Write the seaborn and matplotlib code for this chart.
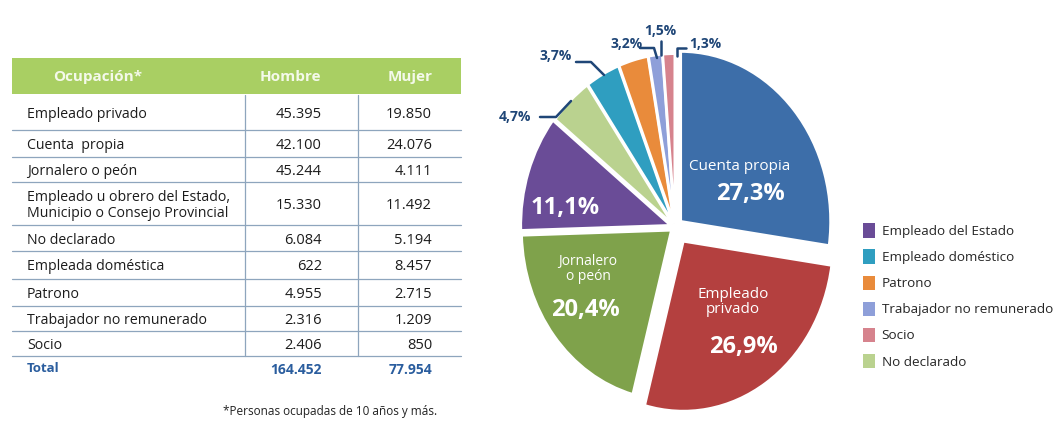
import matplotlib
matplotlib.use("Agg")
import matplotlib.pyplot as plt
from matplotlib.patches import Patch, Rectangle
import seaborn as sns

# ---- tabla ----
ocupaciones = ["Empleado privado", "Cuenta  propia", "Jornalero o peón",
               "Empleado u obrero del Estado,\nMunicipio o Consejo Provincial",
               "No declarado", "Empleada doméstica", "Patrono",
               "Trabajador no remunerado", "Socio"]
hombre = [45395, 42100, 45244, 15330, 6084, 622, 4955, 2316, 2406]
mujer = [19850, 24076, 4111, 11492, 5194, 8457, 2715, 1209, 850]
total_hombre = 164452
total_mujer = 77954

# ---- pastel ----
categorias = ["Cuenta propia", "Empleado privado", "Jornalero o peón",
              "Empleado del Estado", "No declarado", "Empleado doméstico",
              "Patrono", "Trabajador no remunerado", "Socio"]
porcentajes = [27.3, 26.9, 20.4, 11.1, 4.7, 3.7, 3.2, 1.5, 1.3]
colores = ["#3d6ea9", "#b4403f", "#7fa24b", "#6a4c97", "#bad28f",
           "#2f9ec0", "#e98b3b", "#8e9fd9", "#d6838d"]
separacion = [0.05, 0.1, 0.03, 0.03, 0.02, 0.02, 0.02, 0.02, 0.02]
leyenda = ["Empleado del Estado", "Empleado doméstico", "Patrono",
           "Trabajador no remunerado", "Socio", "No declarado"]


def fmt(v):
    return f"{v:,}".replace(",", ".")


sns.set_theme(style="white")
plt.rcParams['font.family'] = ['Open Sans', 'DejaVu Sans']

fig = plt.figure(figsize=(10.58, 4.21), dpi=100)

# pie chart (slightly taller than wide, like the original)
W, H = 1058, 421
cx, cy, rx, ry = 675, 227, 150, 170
ax_pie = fig.add_axes([(cx - 1.2 * rx) / W, (H - cy - 1.2 * ry) / H,
                       2.4 * rx / W, 2.4 * ry / H])
ax_pie.pie(porcentajes, colors=colores, startangle=90, counterclock=False,
           explode=separacion, radius=1,
           wedgeprops=dict(edgecolor="white", linewidth=2))
ax_pie.set_aspect("auto")
ax_pie.set_xlim(-1.2, 1.2)
ax_pie.set_ylim(-1.2, 1.2)
ax_pie.axis("off")

# overlay in pixel units
ax = fig.add_axes([0, 0, 1, 1], zorder=3)
ax.set_xlim(0, W)
ax.set_ylim(H, 0)
ax.axis("off")

# table header
ax.add_patch(Rectangle((12, 58), 449, 36, color="#a9cf63", lw=0))
ax.text(98, 77, "Ocupación*", color="#f4f9ea", fontsize=11, weight="bold",
        ha="center", va="center")
ax.text(290, 77, "Hombre", color="#f4f9ea", fontsize=11, weight="bold",
        ha="center", va="center")
ax.text(410, 77, "Mujer", color="#f4f9ea", fontsize=11, weight="bold",
        ha="center", va="center")

bordes = [95, 130, 157, 182, 225, 251, 279, 306, 331, 356]
for y in bordes[1:]:
    ax.plot([12, 461], [y, y], color="#8ea5bd", lw=0.9)
ax.plot([245, 245], [95, 356], color="#8ea5bd", lw=0.9)
ax.plot([358, 358], [95, 356], color="#8ea5bd", lw=0.9)

for i, occ in enumerate(ocupaciones):
    yc = (bordes[i] + bordes[i + 1]) / 2 + 2
    ax.text(27, yc, occ, fontsize=10.2, color="#1c1c1c", va="center",
            linespacing=1.15)
    ax.text(322, yc, fmt(hombre[i]), fontsize=10.5, color="#1c1c1c",
            va="center", ha="right")
    ax.text(432, yc, fmt(mujer[i]), fontsize=10.5, color="#1c1c1c",
            va="center", ha="right")

ax.text(27, 369, "Total", fontsize=9.5, color="#2a5d9e", weight="bold", va="center")
ax.text(322, 370, fmt(total_hombre), fontsize=10, color="#2a5d9e",
        weight="bold", va="center", ha="right")
ax.text(432, 370, fmt(total_mujer), fontsize=10, color="#2a5d9e",
        weight="bold", va="center", ha="right")
ax.text(330, 412, "*Personas ocupadas de 10 años y más.", fontsize=8.5,
        color="#222222", ha="center", va="center")

# inner pie labels
blanco = dict(color="white", ha="center", va="center")
ax.text(740, 167, "Cuenta propia", fontsize=11, **blanco)
ax.text(750, 194, "27,3%", fontsize=17, weight="bold", **blanco)
ax.text(733, 302, "Empleado\nprivado", fontsize=11, linespacing=1.0, **blanco)
ax.text(743, 347, "26,9%", fontsize=17, weight="bold", **blanco)
ax.text(588, 269, "Jornalero\no peón", fontsize=10, linespacing=0.95, **blanco)
ax.text(585, 310, "20,4%", fontsize=17, weight="bold", **blanco)
ax.text(565, 208, "11,1%", fontsize=17, weight="bold", **blanco)

# outer labels with leader lines
azul = "#1f4677"
ext = [("4,7%", 515, 117, [(540, 117), (556, 117), (571, 101)]),
       ("3,7%", 556, 56, [(576, 62), (591, 62), (604, 75)]),
       ("3,2%", 627, 44, [(640, 48), (654, 48), (657, 58)]),
       ("1,5%", 660, 31, [(661, 41), (661, 55)]),
       ("1,3%", 705, 44, [(686, 48), (677, 48), (677, 56)])]
for txt, x, y, pts in ext:
    ax.text(x, y, txt, fontsize=10, color=azul, weight="bold",
            ha="center", va="center")
    ax.plot([p[0] for p in pts], [p[1] for p in pts], color=azul, lw=1.8)

# legend
handles = [Patch(facecolor=colores[categorias.index(c)], edgecolor="none")
           for c in leyenda]
fig.legend(handles, leyenda, loc="upper left",
           bbox_to_anchor=(858 / W, 1 - 218 / H), frameon=False,
           fontsize=9.7, handlelength=0.85, handleheight=1.25,
           handletextpad=0.5, labelspacing=0.85, borderaxespad=0)

fig.savefig("out.png", dpi=100)
